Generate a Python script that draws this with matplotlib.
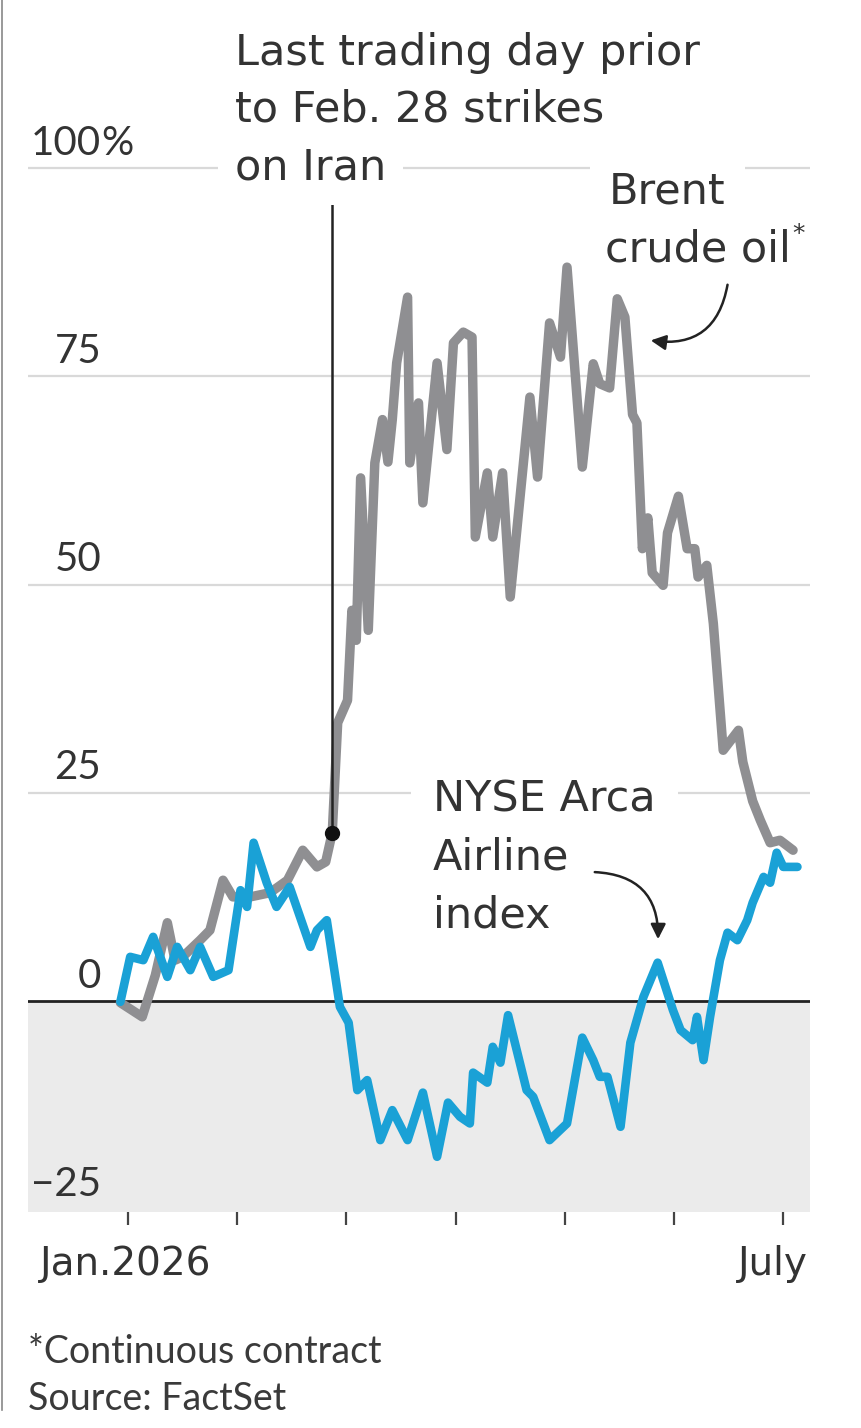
import matplotlib.pyplot as plt
from matplotlib.patches import FancyArrowPatch
import matplotlib.font_manager as fm

W, H = 861, 1428

# x: months since Jan. 1, 2026 (chart spaces months evenly), y: % change
brent_x = [-0.07, 0.13, 0.25, 0.36, 0.43, 0.50, 0.66, 0.75, 0.87, 0.96,
           1.12, 1.30, 1.46, 1.60, 1.73, 1.81, 1.87, 1.92, 2.01, 2.05,
           2.09, 2.13, 2.20, 2.26, 2.33, 2.38, 2.42, 2.46, 2.56, 2.58,
           2.66, 2.70, 2.83, 2.92, 2.98, 3.07, 3.15, 3.18, 3.29, 3.34,
           3.43, 3.50, 3.68, 3.75, 3.86, 3.96, 4.02, 4.16, 4.26, 4.32,
           4.41, 4.48, 4.55, 4.62, 4.66, 4.71, 4.76, 4.80, 4.90, 4.94,
           5.04, 5.12, 5.19, 5.22, 5.30, 5.36, 5.45, 5.59, 5.63, 5.72,
           5.79, 5.88, 5.97, 6.09]
brent_y = [-0.2, -1.9, 3.1, 9.4, 4.9, 5.3, 7.3, 8.5, 14.5, 12.5,
           12.5, 13.0, 14.5, 18.1, 16.1, 16.7, 20.2, 33.4, 36.1, 46.9,
           43.3, 62.8, 44.5, 64.6, 69.8, 64.7, 69.8, 76.6, 84.5, 64.6,
           71.8, 59.8, 76.6, 66.2, 79.0, 80.3, 79.7, 55.7, 63.4, 55.7,
           63.4, 48.5, 72.5, 62.9, 81.4, 77.3, 88.1, 64.1, 76.5, 74.1,
           73.6, 84.3, 82.1, 70.4, 69.4, 54.3, 58.0, 51.4, 49.9, 56.2,
           60.6, 54.3, 54.3, 50.9, 52.3, 45.3, 30.1, 32.5, 28.7, 24.0,
           21.7, 19.0, 19.3, 18.1]
strike_idx = 16  # last trading day before Feb. 28

airline_x = [-0.07, 0.02, 0.14, 0.23, 0.36, 0.45, 0.57, 0.66, 0.78, 0.92,
             1.03, 1.09, 1.15, 1.27, 1.36, 1.48, 1.67, 1.73, 1.82, 1.94,
             2.02, 2.10, 2.19, 2.31, 2.42, 2.56, 2.70, 2.83, 2.93, 3.04,
             3.13, 3.16, 3.29, 3.34, 3.41, 3.48, 3.65, 3.71, 3.86, 4.02,
             4.16, 4.26, 4.32, 4.39, 4.51, 4.60, 4.72, 4.85, 4.99, 5.06,
             5.17, 5.21, 5.27, 5.33, 5.42, 5.49, 5.58, 5.67, 5.72, 5.82,
             5.88, 5.94, 6.00, 6.13]
airline_y = [-0.1, 5.3, 4.9, 7.7, 2.9, 6.5, 3.7, 6.5, 2.9, 3.7,
             13.3, 11.3, 19.0, 14.2, 11.3, 13.7, 6.5, 8.5, 9.7, -0.7,
             -2.6, -10.7, -9.5, -16.7, -13.1, -16.7, -11.0, -18.7, -12.2, -13.9,
             -14.7, -8.6, -9.8, -5.5, -7.4, -1.7, -10.7, -11.5, -16.7, -14.7,
             -4.4, -7.1, -9.1, -9.1, -15.1, -5.0, 0.5, 4.6, -1.1, -3.5,
             -4.7, -1.9, -7.1, -1.9, 4.9, 8.2, 7.3, 9.7, 11.8, 14.9,
             14.2, 17.8, 16.1, 16.1]

grid_vals = [25, 50, 75, 100]
ytick_vals = [100, 75, 50, 25, 0, -25]
ytick_labels = ['100', '75', '50', '25', '0', '\u221225']
month_ticks = [0, 1, 2, 3, 4, 5, 6]

avail = {f.name for f in fm.fontManager.ttflist}
tick_font = ['Lato', 'DejaVu Sans']
note_font = ['DejaVu Sans']
narrow_font = [f for f in ['Liberation Sans Narrow', 'Lato'] if f in avail] + ['DejaVu Sans']

GRAY = '#8f8f92'
BLUE = '#1aa1d6'
TXT = '#333333'

fig = plt.figure(figsize=(W / 100, H / 100), dpi=100)
ax = fig.add_axes([28 / W, 1 - 1212 / H, 782 / W, 1212 / H])
ax.set_xlim(-0.916, 6.245)
ax.set_ylim(-25.33, 120.17)
for s in ax.spines.values():
    s.set_visible(False)
ax.set_yticks([])
ax.set_xticks(month_ticks)
ax.set_xticklabels([])
ax.tick_params(axis='x', length=9, width=1.6, color='#444444', direction='out')
ax.patch.set_alpha(0)

ax.axhspan(-25.33, 0, color='#ebebeb', lw=0, zorder=0)
for v in grid_vals:
    ax.axhline(v, color='#d9d9d9', lw=1.6, zorder=1)
ax.axhline(0, color='#222222', lw=2.0, zorder=2)

for v, lab in zip(ytick_vals, ytick_labels):
    ax.text(-0.245, v + 1.6, lab, ha='right', va='baseline', fontsize=29,
            color=TXT, family=tick_font, zorder=3)
ax.text(-0.245, 100 + 1.6, '%', ha='left', va='baseline', fontsize=29,
        color=TXT, family=tick_font, zorder=3)

ax.plot(brent_x, brent_y, color=GRAY, lw=6.8, solid_joinstyle='round',
        solid_capstyle='round', zorder=4)
ax.plot(airline_x, airline_y, color=BLUE, lw=6.2, solid_joinstyle='round',
        solid_capstyle='round', zorder=5)

sx, sy = brent_x[strike_idx], brent_y[strike_idx]
ax.vlines(sx, sy, 96.4, color='#222222', lw=1.8, zorder=6)
ax.plot([sx], [sy], 'o', color='#111111', ms=10, zorder=7)


def ft(x, y, s, size=31, ha='left', bg=None, fam=None, color=TXT):
    kw = {}
    if bg is not None:
        kw['bbox'] = dict(facecolor='white', edgecolor='none', pad=bg)
    return fig.text(x / W, 1 - y / H, s, ha=ha, va='baseline', fontsize=size,
                    color=color, family=fam or note_font, zorder=3, **kw)


ft(235, 65, 'Last trading day prior')
ft(235, 122, 'to Feb. 28 strikes')
ft(235, 179, 'on Iran', bg=12)
ft(609, 203, 'Brent', bg=14)
crude = ft(605, 261, 'crude oil')
ft(433, 812, 'NYSE Arca', bg=16)
ft(433, 870, 'Airline')
ft(433, 927, 'index')
ft(40, 1275, 'Jan.2026', size=28)
ft(808, 1275, 'July', ha='right', size=28)
ft(28, 1363, '*Continuous contract', size=27, fam=narrow_font, color='#3a3a3a')
ft(28, 1410, 'Source: FactSet', size=27, fam=narrow_font, color='#3a3a3a')

fig.canvas.draw()
ext = crude.get_window_extent()
fig.text((ext.x1 + 1) / W, 1 - 241 / H, '*', ha='left', va='baseline',
         fontsize=18, color=TXT, family=note_font)


def arrow(a, b, rad):
    p = FancyArrowPatch((a[0] / W, 1 - a[1] / H), (b[0] / W, 1 - b[1] / H),
                        transform=fig.transFigure,
                        connectionstyle='arc3,rad=%s' % rad,
                        arrowstyle='-|>,head_length=9,head_width=4.5',
                        color='#222222', lw=1.8, mutation_scale=1)
    fig.patches.append(p)


arrow((728, 282), (648, 340), -0.5)
arrow((592, 872), (658, 942), -0.5)

# left border line
fig.add_artist(plt.Line2D([2 / W, 2 / W], [1 - 1410 / H, 1], color='#888888',
                          lw=1.2, transform=fig.transFigure))

fig.savefig('out.png', dpi=100, facecolor='white')
